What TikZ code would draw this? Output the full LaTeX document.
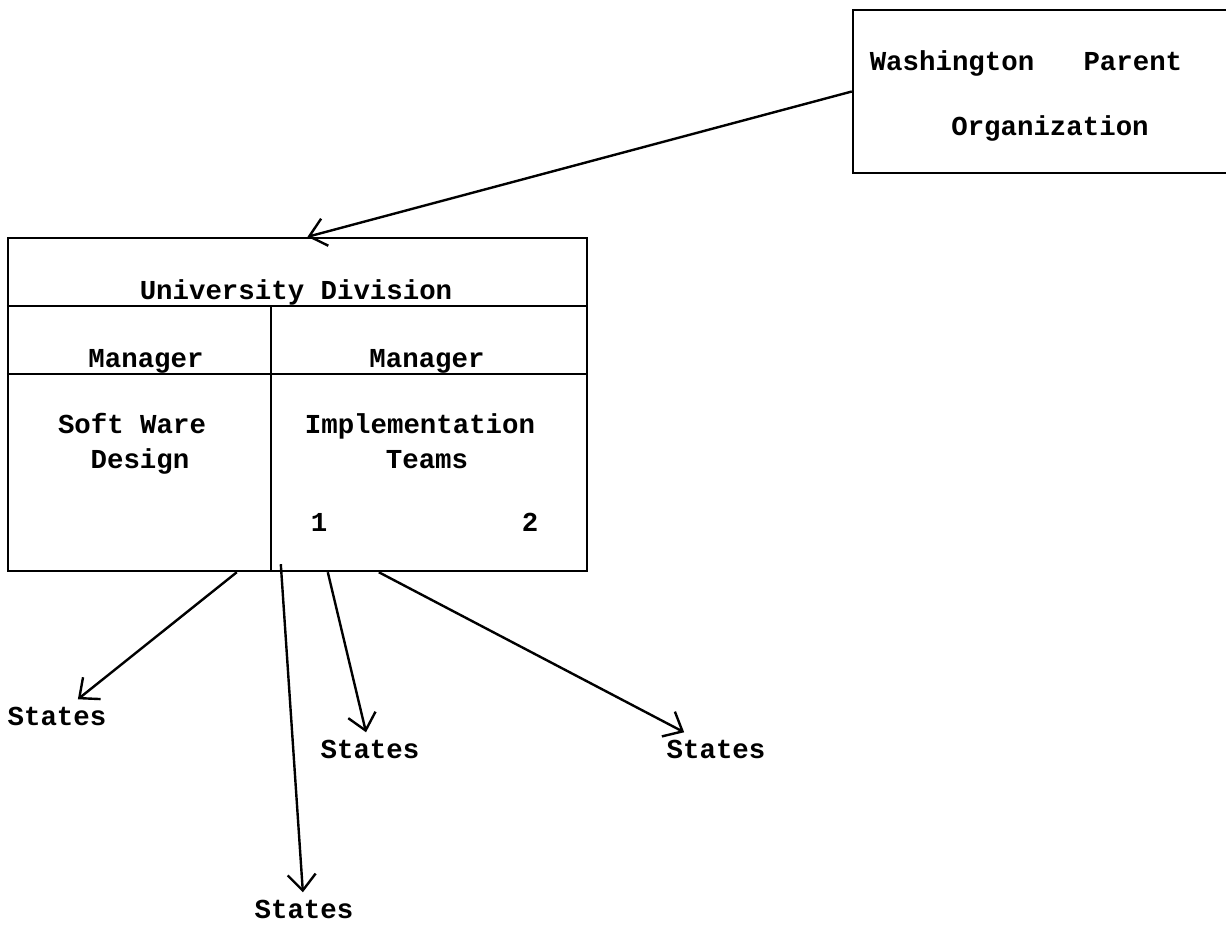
\documentclass[tikz,border=0pt]{standalone}
\usepackage{fontspec}
\newfontfamily\typefont{Liberation Mono}
\usetikzlibrary{positioning, arrows.meta, calc}

\begin{document}
\begin{tikzpicture}[
  x=0.5pt, y=-0.5pt,
  box/.style={draw, line width=1.2pt, inner sep=0pt},
  rule/.style={line width=1.2pt},
  txt/.style={font=\typefont\bfseries\fontsize{13.7}{16}\selectfont, anchor=base, inner sep=0pt},
  dest/.style={txt, inner sep=3.5pt},
  arrow/.style={-{Straight Barb[length=8pt, width=14pt]}, line width=1.2pt},
]
\useasboundingbox (0,0) rectangle (1226,926);

% ================= boxes =================
% parent organization (right edge runs off the page)
\node[box, minimum width=188pt, minimum height=81.5pt] (wash) at (1041,91.5) {};
\node[txt] (wname) at (1026,70) {Washington~~~Parent};
\node[txt] (worg) at (1050,135) {Organization};

% university division table
\node[box, minimum width=289.5pt, minimum height=166.5pt] (univ) at (297.5,404.5) {};
\draw[rule] ($(univ.north west)+(0,69)$) -- ($(univ.north east)+(0,69)$);
\draw[rule] ($(univ.north west)+(0,137)$) -- ($(univ.north east)+(0,137)$);
\draw[rule] ($(univ.north west)+(264,69)$) -- ($(univ.south west)+(264,0)$);

\node[txt] (title) at (296,299) {University Division};
\node[txt] (mgr1) at (146,367) {Manager};
\node[txt] (mgr2) at (427,367) {Manager};
\node[txt] (soft) at (132,433) {Soft Ware};
\node[txt] (design) at (140,468) {Design};
\node[txt] (impl) at (420,433) {Implementation};
\node[txt] (teams) at (427,468) {Teams};
\node[txt] (team1) at (319,531) {1};
\node[txt] (team2) at (530,531) {2};

% ================= states =================
\node[dest] (st1) at (57,725) {States};
\node[dest] (st2) at (304,918) {States};
\node[dest] (st3) at (370,758) {States};
\node[dest] (st4) at (716,758) {States};

% ================= connectors =================
% 1. parent -> division
\draw[arrow] (wash.west) -- ([xshift=5pt]univ.north);

% 2. division -> states
\draw[arrow] ($(univ.south west)+(230,0)$) -- (st1);
\draw[arrow] ($(univ.south west)+(274,-8)$) -- (st2);
\draw[arrow] ($(univ.south west)+(321,0)$) -- (st3);
\draw[arrow] ($(univ.south west)+(372,0)$) -- (st4);

\end{tikzpicture}
\end{document}
